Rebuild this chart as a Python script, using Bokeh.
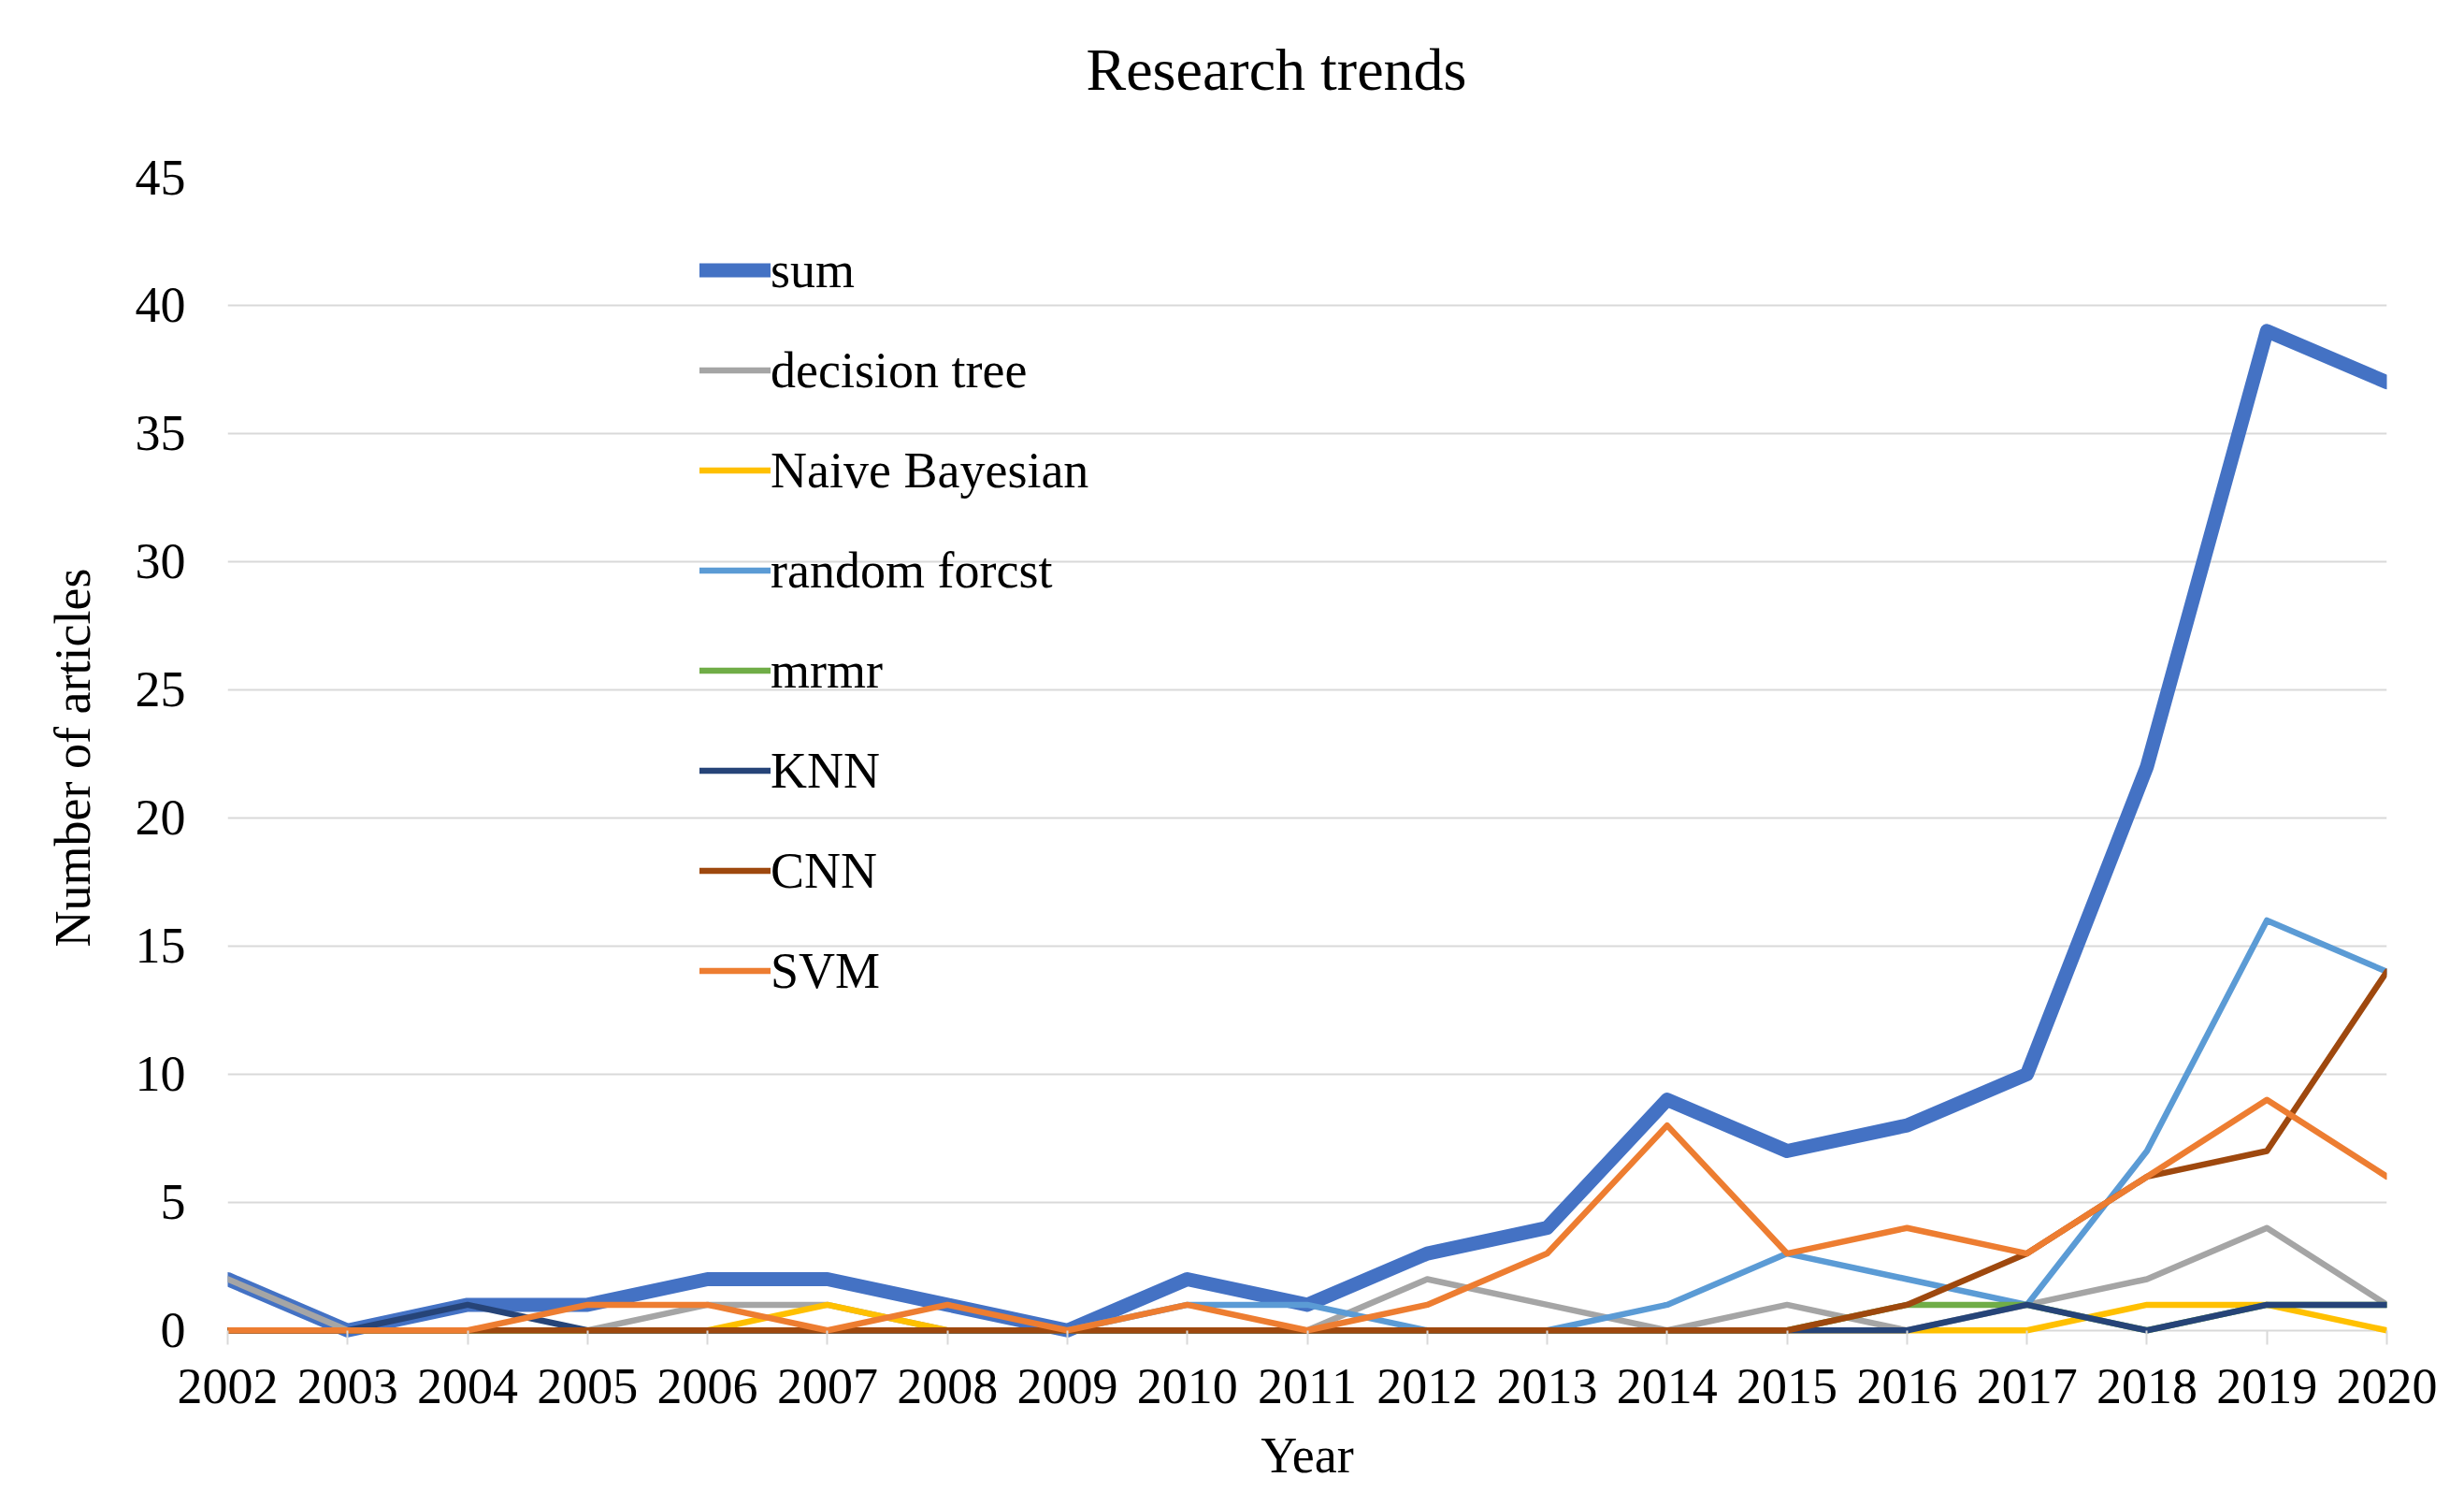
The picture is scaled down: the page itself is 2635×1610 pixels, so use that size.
from bokeh.plotting import figure
from bokeh.models import Range1d, Legend, LegendItem, FixedTicker
from bokeh.embed import file_html
from bokeh.resources import INLINE

years = list(range(2002, 2021))
series_names = ["sum", "decision tree", "Naive Bayesian", "random forcst", "mrmr", "KNN", "CNN", "SVM"]
sum_vals =      [2, 0, 1, 1, 2, 2, 1, 0, 2, 1, 3, 4, 9, 7, 8, 10, 22, 39, 37]
decision_tree = [2, 0, 0, 0, 1, 1, 0, 0, 0, 0, 2, 1, 0, 1, 0, 1, 2, 4, 1]
naive_bayes =   [0, 0, 0, 0, 0, 1, 0, 0, 0, 0, 0, 0, 0, 0, 0, 0, 1, 1, 0]
random_forest = [0, 0, 0, 0, 0, 0, 0, 0, 1, 1, 0, 0, 1, 3, 2, 1, 7, 16, 14]
mrmr =          [0, 0, 0, 0, 0, 0, 0, 0, 0, 0, 0, 0, 0, 0, 1, 1, 0, 1, 1]
knn =           [0, 0, 1, 0, 0, 0, 0, 0, 0, 0, 0, 0, 0, 0, 0, 1, 0, 1, 1]
cnn =           [0, 0, 0, 0, 0, 0, 0, 0, 0, 0, 0, 0, 0, 0, 1, 3, 6, 7, 14]
svm =           [0, 0, 0, 1, 1, 0, 1, 0, 1, 0, 1, 3, 8, 3, 4, 3, 6, 9, 6]
y_ticks = [0, 5, 10, 15, 20, 25, 30, 35, 40, 45]

all_series = [sum_vals, decision_tree, naive_bayes, random_forest, mrmr, knn, cnn, svm]
colors = ["#4472C4", "#A5A5A5", "#FFC000", "#5B9BD5", "#70AD47", "#264478", "#9E480E", "#ED7D31"]
widths = [15, 6.5, 6.5, 6.5, 6.5, 6.5, 6.5, 6.5]

FONT = "Liberation Serif"

p = figure(frame_width=2309, frame_height=1241,
           min_border_left=243, min_border_right=67,
           min_border_top=189, min_border_bottom=164,
           x_range=Range1d(2002, 2020), y_range=Range1d(-0.3, 45),
           output_backend="svg", toolbar_location=None)
p.outline_line_color = None
p.background_fill_color = "white"

# second (blank) line lifts the title away from the plot frame
p.title.text = "Research trends\n "
p.title.text_font = FONT
p.title.text_font_size = "64px"
p.title.text_font_style = "normal"
p.title.text_color = "black"
p.title.align = "left"
p.title.offset = 918
p.title.standoff = 18

# x axis
p.xaxis.ticker = FixedTicker(ticks=years)
p.xaxis.major_label_overrides = {y: str(y) for y in years}
p.xaxis.axis_line_color = None
p.xaxis.major_tick_line_color = "#D9D9D9"
p.xaxis.major_tick_line_width = 2
p.xaxis.major_tick_in = 8
p.xaxis.major_tick_out = 7
p.xaxis.minor_tick_line_color = None
p.xaxis.major_label_text_font = FONT
p.xaxis.major_label_text_font_size = "54px"
p.xaxis.major_label_text_color = "black"
p.xaxis.major_label_standoff = 26
p.xaxis.axis_label = "Year"
p.xaxis.axis_label_text_font = FONT
p.xaxis.axis_label_text_font_size = "54px"
p.xaxis.axis_label_text_font_style = "normal"
p.xaxis.axis_label_text_color = "black"
p.xaxis.axis_label_standoff = 23

# y axis
p.yaxis.ticker = FixedTicker(ticks=y_ticks)
p.yaxis.axis_line_color = None
p.yaxis.major_tick_line_color = None
p.yaxis.minor_tick_line_color = None
p.yaxis.major_tick_out = 0
p.yaxis.major_tick_in = 0
p.yaxis.major_label_text_font = FONT
p.yaxis.major_label_text_font_size = "54px"
p.yaxis.major_label_text_color = "black"
p.yaxis.major_label_standoff = 45
p.yaxis.axis_label = "Number of articles"
p.yaxis.axis_label_text_font = FONT
p.yaxis.axis_label_text_font_size = "54px"
p.yaxis.axis_label_text_font_style = "normal"
p.yaxis.axis_label_text_color = "black"
p.yaxis.axis_label_standoff = 34

p.xgrid.grid_line_color = None
p.ygrid.ticker = FixedTicker(ticks=y_ticks)
p.ygrid.grid_line_color = "#D9D9D9"
p.ygrid.grid_line_width = 2

items = []
for name, vals, c, w in zip(series_names, all_series, colors, widths):
    r = p.line(years, vals, line_color=c, line_width=w, line_join="round", line_cap="round")
    items.append(LegendItem(label=name, renderers=[r]))

legend = Legend(items=items, location=(505, 339), orientation="vertical",
                glyph_width=76, glyph_height=107, label_height=107,
                label_standoff=0, spacing=0, padding=0, margin=0,
                label_text_font=FONT, label_text_font_size="54px",
                label_text_color="black",
                background_fill_alpha=0, border_line_alpha=0)
p.add_layout(legend)

open("out.html", "w").write(file_html(p, INLINE))
